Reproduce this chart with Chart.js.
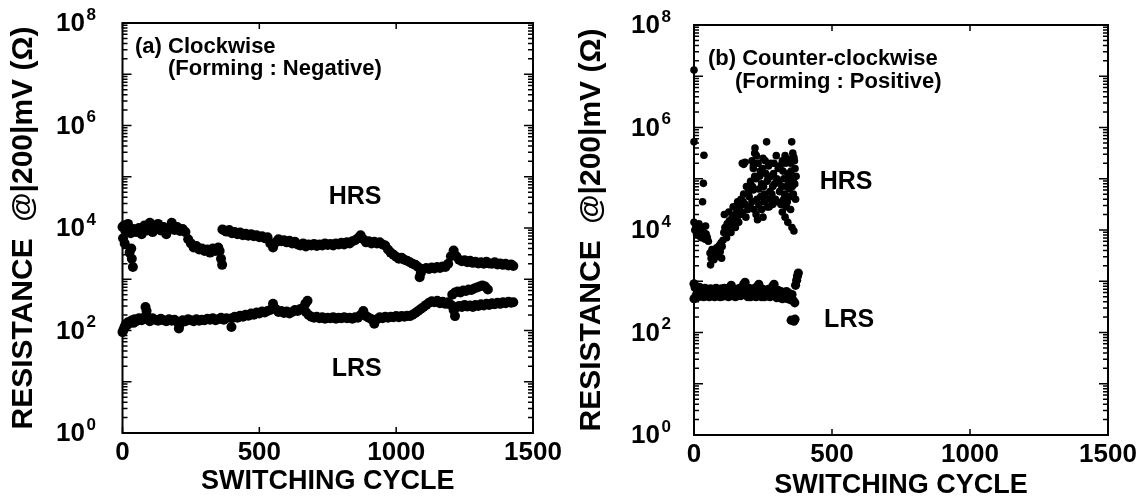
<!DOCTYPE html>
<html>
<head>
<meta charset="utf-8">
<script src="https://cdn.jsdelivr.net/npm/chart.js@4.4.1/dist/chart.umd.min.js"></script>
<style>
  body { margin: 0; background: #fff; }
  .panel { position: absolute; top: 0; height: 500px; }
  #wrapA { left: 0; width: 570px; }
  #wrapB { left: 570px; width: 571px; }
</style>
</head>
<body>
<div class="panel" id="wrapA"><canvas id="chartA" width="570" height="500"></canvas></div>
<div class="panel" id="wrapB"><canvas id="chartB" width="571" height="500"></canvas></div>
<script>
// values: [switching cycle, resistance in ohm]
const xTicks = [0, 500, 1000, 1500];
const yLabelExp = [0, 2, 4, 6, 8];

// (a) clockwise, HRS
const cwHrs = [
  [0,10470],[2,6310],[5,11220],[8,5010],[10,8910],[20,12020],[26,3310],[30,7940],[32,3980],[34,2510],
  [38,1740],[40,9550],[50,8320],[60,10000],[70,7590],[80,11220],[90,8910],[100,12590],[110,8320],[120,9550],
  [130,12020],[140,8910],[150,10470],[160,7590],[170,10000],[180,12590],[190,9120],[200,10470],[210,8710],[220,9550],
  [230,8320],[240,6030],[250,5010],[260,4170],[270,4470],[280,3800],[290,3980],[300,3550],[310,3800],[320,3310],
  [330,3980],[340,3550],[350,4170],[355,3550],[360,2510],[364,1910],[365,9330],[372,8910],[380,8510],[390,9120],
  [400,7940],[410,8320],[420,7590],[430,8130],[440,7240],[450,7760],[460,7080],[470,7590],[480,6920],[490,7240],
  [500,6610],[510,6920],[520,6310],[530,6610],[540,5010],[550,4170],[560,5250],[570,6030],[580,5500],[590,5750],
  [600,5250],[610,5620],[620,5010],[630,5370],[640,4790],[650,4570],[660,5010],[670,4370],[680,4790],[690,4570],
  [700,4900],[710,4470],[720,4790],[730,4570],[740,5010],[750,4680],[760,4900],[770,4570],[780,5010],[790,4790],
  [800,5130],[810,4790],[820,5250],[830,5010],[840,5500],[850,5750],[860,6310],[870,7240],[880,6030],[890,5250],
  [900,5500],[910,5010],[920,5370],[930,5010],[940,5250],[950,4790],[960,4570],[970,3800],[980,3310],[990,3020],
  [1000,2750],[1010,2510],[1020,2630],[1030,2400],[1040,2290],[1050,2140],[1060,2000],[1070,1910],[1080,1740],[1086,1100],
  [1090,1320],[1100,1580],[1110,1660],[1120,1580],[1130,1700],[1140,1620],[1150,1740],[1160,1660],[1170,1780],[1180,1740],
  [1190,2000],[1200,2820],[1210,3630],[1220,2820],[1230,2400],[1240,2240],[1250,2340],[1260,2140],[1270,2290],[1280,2090],
  [1290,2190],[1300,2040],[1310,2140],[1320,2000],[1330,2190],[1340,2040],[1350,2000],[1360,2140],[1370,1950],[1380,2040],
  [1390,1910],[1400,2000],[1410,1860],[1420,1950],[1428,1820]
];

// (a) clockwise, LRS
const cwLrs = [
  [0,93],[4,105],[8,120],[12,132],[16,126],[20,145],[25,138],[30,151],[35,158],[40,141],
  [45,166],[50,151],[55,158],[60,174],[70,158],[80,182],[84,288],[88,240],[90,166],[100,151],
  [110,174],[120,162],[130,155],[140,170],[150,158],[160,151],[170,166],[180,155],[190,162],[200,148],
  [206,110],[210,132],[220,158],[230,151],[240,166],[250,158],[260,151],[270,166],[280,155],[290,162],
  [300,158],[310,170],[320,162],[330,174],[340,158],[350,166],[360,178],[370,162],[380,174],[398,117],
  [400,174],[410,186],[420,178],[430,195],[440,186],[450,204],[460,195],[470,214],[480,204],[490,224],
  [500,214],[510,234],[520,224],[530,240],[540,251],[550,331],[560,263],[570,229],[580,240],[590,219],
  [600,234],[610,214],[620,229],[630,251],[640,240],[650,263],[660,275],[668,331],[676,380],[670,229],
  [680,200],[690,186],[700,178],[710,186],[720,174],[730,182],[740,170],[750,178],[760,174],[770,182],
  [780,170],[790,178],[800,174],[810,182],[820,174],[830,178],[840,170],[850,182],[860,178],[870,200],
  [880,240],[890,191],[900,178],[910,166],[920,135],[930,166],[940,182],[950,174],[960,186],[970,178],
  [980,186],[990,182],[1000,191],[1010,182],[1020,191],[1030,186],[1040,195],[1050,191],[1060,204],[1070,219],
  [1080,240],[1090,263],[1100,288],[1110,316],[1120,347],[1130,372],[1140,355],[1150,380],[1160,339],[1170,363],
  [1180,331],[1190,355],[1200,316],[1210,251],[1215,191],[1220,282],
  [1205,501],[1215,550],[1225,575],[1235,550],[1245,603],[1255,589],[1265,631],[1275,617],[1285,661],[1295,692],
  [1305,724],[1315,759],[1325,724],[1335,631],
  [1230,302],[1240,288],[1250,316],[1260,295],[1270,309],[1280,288],[1290,316],[1300,302],[1310,324],[1320,309],
  [1330,331],[1340,316],[1350,339],[1360,324],[1370,347],[1380,331],[1390,355],[1400,339],[1410,363],[1420,347],
  [1428,355]
];

// (b) counter-clockwise, HRS
const ccwHrs = [
  [0,13200000],[0,525000],[36,288000],[34,81300],[31,35500],
  [0,14100],[3,10000],[6,12600],[9,8320],[12,11200],[15,8910],[18,13200],[21,7590],[24,10000],[27,7080],
  [30,11200],[33,7940],[36,8910],[40,6610],[44,8320],[48,7240],[52,6030],[42,12000],
  [58,3550],[60,2090],[62,2820],[65,4170],[68,3160],[72,2630],[75,3800],[78,3020],[82,4470],[85,3310],
  [88,3980],[92,5010],[95,3800],[98,5620],[102,4790],[105,6310],[100,2820],
  [108,8910],[112,11200],[116,9550],[120,13200],[124,11200],[128,15100],[132,12600],[136,16600],[140,14100],[144,19100],
  [148,15800],[152,20900],[156,17800],[160,24000],
  [110,20000],[118,7080],[126,22400],[134,8910],[142,28200],[150,11200],[158,35500],[162,14100],[168,20000],[178,35500],
  [188,17800],[198,56200],[204,28200],[212,70800],[218,25100],
  [165,28200],[170,39800],[175,22400],[180,50100],[185,31600],[190,70800],[195,25100],[200,44700],[205,89100],[210,35500],
  [215,60300],[220,112000],[225,20000],[228,39800],
  [175,200000],[180,191000],[185,209000],
  [210,224000],[215,178000],[221,398000],[226,282000],[232,200000],
  [215,158000],[220,316000],[225,100000],[230,200000],[235,63100],[240,141000],[245,79400],[250,251000],[255,50100],[260,126000],
  [263,525000],[265,89100],[270,178000],[275,56200],[280,112000],[285,70800],[290,200000],[295,39800],[300,100000],[305,158000],
  [310,56200],
  [235,31600],[245,25100],[255,35500],[265,28200],[275,39800],[285,31600],[250,17800],[230,15800],
  [238,112000],[242,44700],[248,158000],[252,70800],[258,224000],[262,39800],[268,100000],[272,28200],[278,200000],[282,50100],
  [288,126000],[292,79400],[298,282000],[302,35500],[308,89100],[312,178000],[318,70800],[322,141000],[328,50100],[332,200000],
  [338,35500],[342,89100],[348,44700],[352,141000],[356,70800],[364,224000],[368,39800],[370,112000],
  [320,224000],[330,282000],[340,126000],[350,200000],[354,525000],[358,316000],[362,263000],[366,158000],[345,240000],
  [315,31600],[320,22400],[325,39800],[330,17800],[335,28200],[340,14100],[345,63100],[350,25100],[355,11200],[360,50100],
  [362,9550],[365,79400],
  [325,100000],[335,70800],[345,112000],[360,100000]
];

// (b) counter-clockwise, LRS
const ccwLrs = [
  [0,891],[0,457],[4,759],[8,525],[12,724],[16,501],[20,759],[25,525],[30,692],[35,501],
  [40,724],[45,525],[50,692],[55,501],[60,708],[65,525],[70,692],[75,501],[80,724],[85,525],
  [90,692],[95,501],[100,708],[105,513],[110,724],[115,525],[120,692],[125,501],[130,759],[135,832],
  [140,525],[145,692],[150,501],[155,692],[160,525],[165,724],[170,525],[175,759],[180,871],[185,955],
  [190,692],[195,501],[200,724],[205,501],[210,692],[215,525],[220,724],[225,501],[230,794],[235,871],
  [240,550],[245,501],[250,692],[255,501],[260,661],[265,525],[270,692],[275,501],[280,661],[285,794],
  [290,871],[295,525],[300,479],[305,661],[310,501],[315,631],[320,457],[325,603],[330,479],[335,631],
  [340,457],[345,575],[350,437],[355,550],[360,417],[365,380],
  [368,832],[372,1050],[375,1260],[378,1450],
  [352,174],[362,166],[366,182]
];

function pts(list) {
  return list.map(p => ({ x: p[0], y: p[1] }));
}

const frame = {
  id: 'frame',
  afterDraw(chart, args, opts) {
    const { ctx, chartArea: a, scales: { x, y } } = chart;
    ctx.save();
    ctx.strokeStyle = '#000';
    ctx.fillStyle = '#000';
    ctx.lineWidth = 1.5;
    ctx.beginPath();
    for (let d = 0; d < 8; d++) {
      for (let k = 1; k < 10; k++) {
        const py = y.getPixelForValue(k * Math.pow(10, d));
        const len = k === 1 ? 9 : 5;
        ctx.moveTo(a.left, py); ctx.lineTo(a.left + len, py);
        ctx.moveTo(a.right, py); ctx.lineTo(a.right - len, py);
      }
    }
    xTicks.forEach(v => {
      const px = x.getPixelForValue(v);
      ctx.moveTo(px, a.bottom); ctx.lineTo(px, a.bottom - 6);
      ctx.moveTo(px, a.top); ctx.lineTo(px, a.top + 6);
    });
    ctx.stroke();
    ctx.lineWidth = 2;
    ctx.strokeRect(a.left, a.top, a.right - a.left, a.bottom - a.top);

    // decade labels 10^n
    ctx.textBaseline = 'middle';
    yLabelExp.forEach(e => {
      const py = y.getPixelForValue(Math.pow(10, e));
      const rx = a.left - opts.labelGap;
      ctx.font = 'bold 26px "Liberation Sans", Arial, sans-serif';
      ctx.textAlign = 'right';
      ctx.fillText('10', rx, py + 1);
      ctx.font = 'bold 17px "Liberation Sans", Arial, sans-serif';
      ctx.textAlign = 'left';
      ctx.fillText(String(e), rx + 1.5, py - 8);
    });

    // panel caption
    ctx.font = 'bold 22px "Liberation Sans", Arial, sans-serif';
    ctx.textBaseline = 'alphabetic';
    ctx.textAlign = 'left';
    opts.caption.forEach(t => ctx.fillText(t.text, a.left + t.dx, a.top + t.dy));

    // HRS / LRS tags
    ctx.font = 'bold 25px "Liberation Sans", Arial, sans-serif';
    ctx.textAlign = 'center';
    ctx.textBaseline = 'middle';
    opts.tags.forEach(s => ctx.fillText(s.text, x.getPixelForValue(s.x), y.getPixelForValue(s.y)));
    ctx.restore();
  }
};

Chart.defaults.color = '#000';
Chart.defaults.font.family = '"Liberation Sans", Arial, sans-serif';

function makeChart(id, hrs, lrs, cfg) {
  return new Chart(document.getElementById(id).getContext('2d'), {
    type: 'scatter',
    data: {
      datasets: [
        { label: 'HRS', data: pts(hrs), backgroundColor: '#000', borderWidth: 0, pointRadius: cfg.hrsRadius, clip: false },
        { label: 'LRS', data: pts(lrs), backgroundColor: '#000', borderWidth: 0, pointRadius: cfg.lrsRadius, clip: false }
      ]
    },
    options: {
      responsive: false,
      animation: false,
      devicePixelRatio: 1,
      events: [],
      layout: { padding: { left: 0, right: cfg.padRight, top: cfg.padTop, bottom: 0 } },
      scales: {
        x: {
          type: 'linear',
          min: 0,
          max: 1500,
          ticks: {
            stepSize: 500, padding: 4, font: { size: 26, weight: 'bold' }, color: '#000', maxRotation: 0,
            callback: v => String(v)
          },
          grid: { display: false, drawTicks: false },
          border: { display: false },
          title: { display: true, text: 'SWITCHING CYCLE', font: { size: 27, weight: 'bold', lineHeight: 1 }, padding: { top: 0, bottom: cfg.xTitlePad } },
          afterFit(scale) { scale.height = cfg.xHeight; }
        },
        y: {
          type: 'logarithmic',
          min: 1,
          max: 1e8,
          ticks: { display: false },
          grid: { display: false, drawTicks: false },
          border: { display: false },
          title: { display: true, text: 'RESISTANCE  @|200|mV (Ω)', font: { size: 30, weight: 'bold', lineHeight: 1 }, padding: { top: cfg.yTitlePad, bottom: 0 } },
          afterFit(scale) { scale.width = cfg.yWidth; }
        }
      },
      plugins: {
        legend: { display: false },
        tooltip: { enabled: false },
        frame: { labelGap: cfg.labelGap, caption: cfg.caption, tags: cfg.tags }
      }
    },
    plugins: [frame]
  });
}

makeChart('chartA', cwHrs, cwLrs, {
  hrsRadius: 5, lrsRadius: 5,
  padRight: 37, padTop: 23, xHeight: 67, yWidth: 122.5,
  xTitlePad: 4.5, yTitlePad: 9, labelGap: 37.5,
  caption: [{ text: '(a) Clockwise', dx: 12.5, dy: 30 }, { text: '(Forming : Negative)', dx: 45.5, dy: 52 }],
  tags: [{ text: 'HRS', x: 850, y: 40000 }, { text: 'LRS', x: 856, y: 18 }]
});

makeChart('chartB', ccwHrs, ccwLrs, {
  hrsRadius: 3.8, lrsRadius: 4.6,
  padRight: 33, padTop: 25, xHeight: 65, yWidth: 124,
  xTitlePad: 0.5, yTitlePad: 7, labelGap: 34,
  caption: [{ text: '(b) Counter-clockwise', dx: 14, dy: 40 }, { text: '(Forming : Positive)', dx: 41, dy: 63 }],
  tags: [{ text: 'HRS', x: 551, y: 87000 }, { text: 'LRS', x: 562, y: 175 }]
});
</script>
</body>
</html>
